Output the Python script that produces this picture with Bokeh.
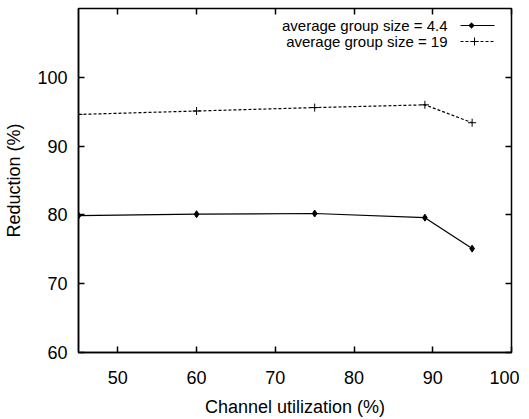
from bokeh.plotting import figure
from bokeh.models import (Range1d, FixedTicker, LinearAxis, Label, Arrow, PolyAnnotation,
                          CustomLabelingPolicy)
from bokeh.embed import file_html
from bokeh.resources import INLINE

# data
utilization = [45, 60, 75, 89, 95]
red_small = [79.9, 80.1, 80.2, 79.6, 75.1]
red_large = [94.6, 95.1, 95.6, 96.0, 93.4]
labels = ["average group size = 4.4", "average group size = 19"]
x_ticks = [50, 60, 70, 80, 90, 100]
y_ticks = [60, 70, 80, 90, 100]

FONT = "Liberation Sans"

p = figure(frame_width=433, frame_height=344, output_backend="svg", toolbar_location=None,
           x_range=Range1d(45, 100), y_range=Range1d(60, 110),
           min_border_left=78, min_border_right=8, min_border_top=8, min_border_bottom=0)
p.background_fill_color = "white"
p.border_fill_color = "white"
p.outline_line_color = "black"
p.outline_line_width = 1.5
p.grid.visible = False

p.xaxis.axis_label = "Channel utilization (%)"
p.yaxis.axis_label = "Reduction (%)"
for ax, ticks in ((p.xaxis[0], x_ticks), (p.yaxis[0], y_ticks)):
    ax.ticker = FixedTicker(ticks=ticks)
    ax.major_tick_in = 6
    ax.major_tick_out = 0
    ax.minor_tick_line_color = None
    ax.major_tick_line_color = "black"
    ax.major_tick_line_width = 1.5
    ax.axis_line_color = "black"
    ax.axis_line_width = 1.5
    ax.major_label_text_font = FONT
    ax.major_label_text_font_size = "18px"
    ax.major_label_text_color = "black"
    ax.axis_label_text_font = FONT
    ax.axis_label_text_font_size = "18px"
    ax.axis_label_text_font_style = "normal"
    ax.axis_label_text_color = "black"
p.xaxis.major_label_standoff = 18
p.xaxis.axis_label_standoff = 10
p.yaxis.major_label_standoff = 11
p.yaxis.axis_label_standoff = 10

no_labels = CustomLabelingPolicy(code="for (const i of Array.from(indices)) indices.unset(i); return indices;")
for loc, ticks in (("above", x_ticks), ("right", y_ticks)):
    ax = LinearAxis(ticker=FixedTicker(ticks=ticks), major_tick_in=6, major_tick_out=0,
                    minor_tick_line_color=None, major_label_policy=no_labels,
                    major_label_text_font_size="1px",
                    major_label_standoff=0, axis_line_color=None, major_tick_line_width=1.5)
    p.add_layout(ax, loc)

p.line(utilization, red_small, line_color="black", line_width=1.2)
p.scatter(utilization, red_small, marker="diamond", size=7, fill_color="black", line_color="black")
p.line(utilization, red_large, line_color="black", line_width=1.2, line_dash="3 2")
p.scatter(utilization, red_large, marker="cross", size=8, line_color="black", line_width=1)

# legend (gnuplot style: text on the left, sample on the right)
row_y = [327, 311]
for i, t in enumerate(labels):
    p.add_layout(Label(x=369, y=row_y[i], x_units="screen", y_units="screen", text=t,
                       text_align="right", text_baseline="middle", text_font=FONT,
                       text_font_size="15px", text_color="black"))
p.add_layout(Arrow(end=None, x_start=382, y_start=row_y[0], x_end=416, y_end=row_y[0],
                   start_units="screen", end_units="screen", line_color="black", line_width=1.2))
p.add_layout(Arrow(end=None, x_start=382, y_start=row_y[1], x_end=416, y_end=row_y[1],
                   start_units="screen", end_units="screen", line_color="black", line_width=1.2,
                   line_dash="3 2"))
cx, cy = 393, row_y[0]
p.add_layout(PolyAnnotation(xs=[cx - 3, cx, cx + 3, cx], ys=[cy, cy + 3, cy, cy - 3],
                            xs_units="screen", ys_units="screen", fill_color="black",
                            fill_alpha=1, line_color="black"))
cx2, cy2 = 396, row_y[1]
p.add_layout(Arrow(end=None, x_start=cx2 - 4, y_start=cy2, x_end=cx2 + 4, y_end=cy2,
                   start_units="screen", end_units="screen", line_color="black", line_width=1))
p.add_layout(Arrow(end=None, x_start=cx2, y_start=cy2 - 4, x_end=cx2, y_end=cy2 + 4,
                   start_units="screen", end_units="screen", line_color="black", line_width=1))

open("out.html", "w").write(file_html(p, INLINE))
